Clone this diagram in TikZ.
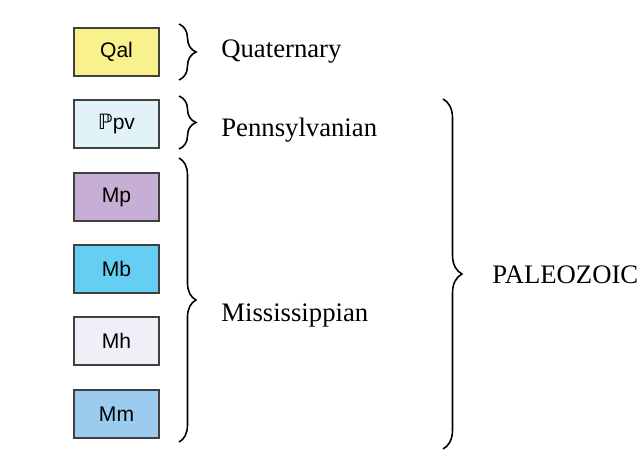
\documentclass[tikz,border=0pt]{standalone}
\usepackage{fontspec}
\setmainfont{Liberation Serif}
\newfontfamily\boxfont{Liberation Sans}
\newfontfamily\symfont{DejaVu Sans}
\usetikzlibrary{decorations.pathreplacing}

\definecolor{qalcol}{HTML}{F9F28C}
\definecolor{ppvcol}{HTML}{E1F3F8}
\definecolor{mpcol}{HTML}{C6AED4}
\definecolor{mbcol}{HTML}{66CEF2}
\definecolor{mhcol}{HTML}{F0EFF8}
\definecolor{mmcol}{HTML}{9BCBEE}
\definecolor{edgecol}{HTML}{404040}

\begin{document}
\begin{tikzpicture}[x=0.02cm,y=-0.02cm,
	unitbox/.style={draw=edgecol, line width=0.6pt, minimum width=1.7cm, minimum height=0.96cm, inner sep=0pt, font=\boxfont\fontsize{12}{14}\selectfont},
	agelabel/.style={anchor=west, inner sep=0pt, font=\fontsize{15.2}{18}\selectfont},
	agebrace/.style={decorate, decoration={brace, amplitude=0.34cm}, line width=0.9pt}]
		\useasboundingbox (0,0) rectangle (638,451);

		% map units
		\node[unitbox, fill=qalcol] (qal) at (116.5,52) {Qal};
		\node[unitbox, fill=ppvcol] (ppv) at (116.5,124) {{\symfont ℙ}pv};
		\node[unitbox, fill=mpcol] (mp) at (116.5,197) {Mp};
		\node[unitbox, fill=mbcol] (mb) at (116.5,269) {Mb};
		\node[unitbox, fill=mhcol] (mh) at (116.5,341) {Mh};
		\node[unitbox, fill=mmcol] (mm) at (116.5,414) {Mm};

		% braces
		\coordinate (qtop) at (179,24);
		\coordinate (qbot) at (179,80);
		\coordinate (ptop) at (179,96);
		\coordinate (pbot) at (179,149);
		\coordinate (mtop) at (179,158);
		\coordinate (mbot) at (179,442);
		\coordinate (pztop) at (443,99);
		\coordinate (pzbot) at (443,449);
		\draw[agebrace] (qtop) -- (qbot);
		\draw[agebrace] (ptop) -- (pbot);
		\draw[agebrace] (mtop) -- (mbot);
		\draw[agebrace, decoration={brace, amplitude=0.38cm}] (pztop) -- (pzbot);

		% ages
		\node[agelabel] (quat) at (221,52) {Quaternary};
		\node[agelabel] (penn) at (221,130) {Pennsylvanian};
		\node[agelabel] (miss) at (221,315) {Mississippian};
		\node[agelabel] (paleo) at (492,275) {PALEOZOIC};
	\end{tikzpicture}
\end{document}
